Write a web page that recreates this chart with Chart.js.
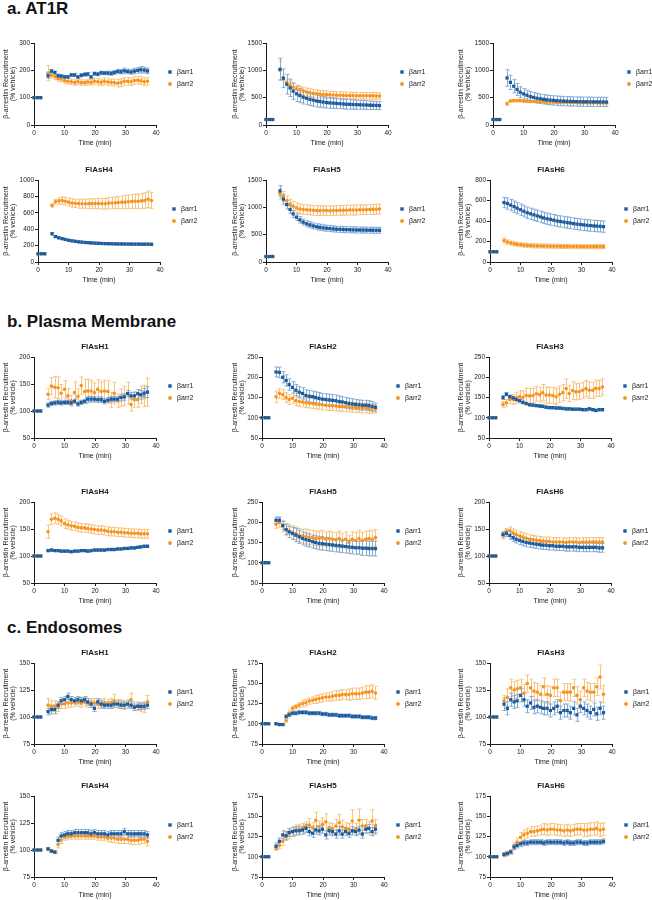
<!DOCTYPE html>
<html>
<head>
<meta charset="utf-8">
<script src="https://cdn.jsdelivr.net/npm/chart.js@4.4.1/dist/chart.umd.min.js"></script>
<style>
  body { margin: 0; background: #fff; width: 652px; height: 900px; position: relative; overflow: hidden;
         font-family: "Liberation Sans", Arial, sans-serif; }
  .sec { position: absolute; left: 7px; font-weight: bold; font-size: 17px; line-height: 17px; color: #111; }
  canvas { position: absolute; }
</style>
</head>
<body>
<div class="sec" style="top:0px">a. AT1R</div>
<div class="sec" style="top:313px">b. Plasma Membrane</div>
<div class="sec" style="top:619px">c. Endosomes</div>

<script>
// time points (min), shared by every panel
const time = [0, 1.1, 2.2, 4.6, 5.7, 6.8, 7.9, 8.9, 10.0, 11.1, 12.2, 13.3, 14.4, 15.5, 16.6, 17.6, 18.7,
  19.8, 20.9, 22.0, 23.1, 24.2, 25.3, 26.3, 27.4, 28.5, 29.6, 30.7, 31.8, 32.9, 34.0, 35.0, 36.1, 37.2];
const xTicks = [0, 10, 20, 30, 40];

// ---- a. AT1R ----
const a1Arr1 = [100,100,100, 180,197,192,180,179,176,176,183,183,176, 182,185,186,176,188,186,191,190,190,189, 192,196,195,198,196,194,197,200,202,201, 198];
const a1Arr1Err = [0,0,0, 8,6,5,6,5,5,5,5,6,5, 6,6,6,5,6,6,6,6,7,7, 7,8,8,10,8,8,10,10,12,10, 10];
const a1Arr2 = [100,100,100, 190,182,178,170,168,162,160,158,155,158, 155,155,157,156,160,158,156,160,157,156, 155,153,155,160,160,158,163,164,162,158, 160];
const a1Arr2Err = [0,0,0, 28,12,12,10,10,10,10,10,10,10, 10,10,10,10,12,12,12,12,12,12, 12,14,14,14,14,14,14,14,14,14, 14];

const a2Arr1 = [100,100,100, 1020,855,745,680,620,570,540,510,490,470, 455,440,430,420,410,405,400,395,390,385, 380,378,375,372,370,368,365,362,360,358, 355];
const a2Arr1Err = [0,0,0, 200,170,180,160,150,140,130,125,120,115, 110,110,105,105,100,100,95,95,90,90, 90,88,85,85,82,80,80,78,75,75, 72];
const a2Arr2 = [100,100,100, 1000,870,780,730,690,660,640,620,605,590, 580,570,565,560,555,552,548,545,543,540, 540,538,537,536,535,535,534,533,533,532, 530];
const a2Arr2Err = [0,0,0, 170,60,60,75,70,70,70,70,70,70, 70,70,68,68,68,65,65,65,65,65, 62,62,62,60,60,60,60,60,60,60, 60];

const a3Arr1 = [100,100,100, 860,780,710,650,600,570,545,520,505,490, 480,470,462,455,450,445,440,437,435,432, 430,428,427,425,425,424,423,423,422,422, 420];
const a3Arr1Err = [0,0,0, 150,130,120,110,100,95,90,90,88,88, 86,85,85,85,85,85,85,85,85,85, 85,85,85,85,85,85,85,85,85,85, 85];
const a3Arr2 = [100,100,100, 390,440,445,445,445,440,435,432,430,428, 426,424,422,420,418,416,415,414,412,411, 410,410,409,408,408,407,406,406,405,405, 404];
const a3Arr2Err = [0,0,0, 30,20,20,20,18,18,18,18,18,18, 18,18,18,18,18,18,18,18,18,18, 18,18,18,18,18,18,18,18,18,18, 18];

const a4Arr1 = [100,100,100, 345,310,295,285,275,265,258,252,246,242, 238,235,232,230,228,226,224,223,222,221, 220,220,219,219,218,218,218,217,217,217, 216];
const a4Arr1Err = [0,0,0, 15,12,12,12,12,12,12,12,12,12, 12,12,12,12,12,12,12,12,12,12, 12,12,12,12,12,12,12,12,12,12, 12];
const a4Arr2 = [100,100,100, 690,735,745,750,740,730,720,715,712,710, 710,710,712,712,712,712,710,718,720,722, 725,728,730,735,738,740,740,745,750,765, 750];
const a4Arr2Err = [0,0,0, 20,30,40,45,45,50,50,50,55,55, 55,60,60,60,62,65,65,70,70,72, 75,78,80,82,85,88,90,92,95,100, 100];

const a5Arr1 = [100,100,100, 1300,1150,1050,960,880,820,770,730,700,680, 660,645,635,625,618,612,606,600,598,595, 592,590,588,586,585,584,583,582,581,580, 580];
const a5Arr1Err = [0,0,0, 100,90,80,70,65,60,58,55,55,55, 55,55,55,55,55,55,55,55,55,55, 55,55,55,55,55,55,55,55,55,55, 55];
const a5Arr2 = [100,100,100, 1250,1200,1120,1060,1020,990,970,960,955,950, 945,940,940,940,940,938,940,942,945,945, 948,950,950,952,955,955,958,960,962,965, 968];
const a5Arr2Err = [0,0,0, 100,90,90,90,88,88,88,88,88,88, 88,88,88,88,88,88,88,88,88,88, 90,90,90,90,90,90,90,90,90,90, 90];

const a6Arr1 = [100,100,100, 580,570,555,540,525,510,495,480,470,460, 450,440,430,422,415,408,400,395,390,385, 380,375,370,366,362,358,355,352,350,348, 345];
const a6Arr1Err = [0,0,0, 50,55,55,55,55,55,55,55,55,55, 55,55,55,55,55,55,55,55,55,55, 55,55,55,55,55,55,55,55,55,55, 55];
const a6Arr2 = [100,100,100, 210,195,185,178,172,168,165,162,160,158, 157,156,155,155,154,153,153,152,152,152, 151,151,151,150,150,150,150,150,150,150, 150];
const a6Arr2Err = [0,0,0, 25,22,20,20,20,20,20,20,20,20, 20,20,20,20,20,20,20,20,20,20, 20,20,20,20,20,20,20,20,20,20, 20];

// ---- b. Plasma Membrane ----
const b1Arr1 = [100,100,100, 111,114,115,116,115,116,116,115,118,113, 116,118,122,122,122,121,121,118,120,122, 122,122,125,126,132,128,128,132,130,133, 135];
const b1Arr1Err = [0,0,0, 4,4,4,4,4,4,4,4,4,4, 4,4,5,5,5,5,5,5,5,5, 5,5,6,6,6,6,7,8,8,9, 10];
const b1Arr2 = [100,100,100, 131,146,144,143,133,140,128,119,134,127, 147,136,137,137,134,140,136,137,136,120, 133,119,125,128,133,112,121,121,130,128, 135];
const b1Arr2Err = [0,0,0, 10,16,20,20,16,16,14,10,20,14, 16,22,22,20,18,18,18,20,20,14, 20,12,16,18,20,12,14,14,16,20, 26];

const b2Arr1 = [100,100,100, 213,212,200,192,182,175,168,163,160,155, 153,152,150,148,146,145,144,143,142,140, 139,137,135,134,133,132,131,131,130,128, 126];
const b2Arr1Err = [0,0,0, 12,13,14,14,14,14,14,14,14,14, 14,14,14,14,14,14,14,14,14,14, 13,13,13,13,12,12,12,12,12,12, 10];
const b2Arr2 = [100,100,100, 152,160,157,150,145,148,142,140,139,137, 136,135,134,133,132,131,130,130,129,128, 128,127,127,126,125,125,124,124,123,122, 122];
const b2Arr2Err = [0,0,0, 14,12,12,12,12,12,12,12,12,12, 12,12,12,12,12,12,12,12,12,12, 12,12,12,12,12,12,12,12,12,12, 10];

const b3Arr1 = [100,100,100, 150,158,152,149,145,142,138,135,132,131, 130,129,128,126,125,125,124,124,123,122, 122,121,121,121,120,120,122,120,118,120, 120];
const b3Arr1Err = [0,0,0, 5,4,4,3,3,3,3,3,3,3, 3,3,3,3,3,3,3,3,3,3, 3,3,3,3,3,3,3,3,3,3, 3];
const b3Arr2 = [100,100,100, 133,137,145,145,149,152,150,155,154,155, 159,157,162,156,156,155,152,158,162,172, 160,167,164,165,168,172,168,168,173,172, 176];
const b3Arr2Err = [0,0,0, 7,8,10,12,14,15,16,18,18,18, 18,18,20,20,20,20,20,20,20,24, 20,22,20,20,20,20,20,20,20,20, 20];

const b4Arr1 = [100,100,100, 110,111,110,110,109,109,109,108,109,109, 110,110,109,110,111,111,111,111,112,112, 112,113,113,114,114,115,115,116,117,118, 118];
const b4Arr1Err = [0,0,0, 2,2,2,2,2,2,2,2,2,2, 2,2,2,2,2,2,2,2,2,2, 2,2,2,2,2,2,2,2,2,2, 2];
const b4Arr2 = [100,100,100, 145,168,170,168,165,160,158,156,155,153, 152,152,151,150,149,148,148,147,146,145, 145,144,144,143,143,142,142,142,141,141, 141];
const b4Arr2Err = [0,0,0, 12,10,10,9,9,9,8,8,8,8, 8,8,8,8,8,8,8,8,8,8, 8,8,8,8,8,8,8,8,8,8, 8];

const b5Arr1 = [100,100,100, 205,205,192,182,176,172,168,164,160,157, 155,152,150,148,147,146,145,144,143,142, 141,140,139,138,137,137,136,136,135,135, 135];
const b5Arr1Err = [0,0,0, 8,8,10,12,14,15,16,16,16,16, 16,16,16,16,16,16,16,16,16,16, 16,16,16,16,16,16,18,18,18,18, 18];
const b5Arr2 = [100,100,100, 195,200,190,182,178,175,172,168,166,165, 163,162,160,160,162,158,160,158,156,160, 155,158,150,158,155,160,155,158,160,158, 162];
const b5Arr2Err = [0,0,0, 10,12,14,15,16,16,16,17,17,18, 18,18,18,18,18,18,18,18,18,18, 18,18,18,18,20,20,20,20,20,20, 20];

const b6Arr1 = [100,100,100, 140,142,138,134,131,129,127,125,124,123, 122,121,120,120,119,119,118,118,118,117, 117,117,117,116,116,116,116,116,116,115, 115];
const b6Arr1Err = [0,0,0, 5,6,7,7,7,8,8,8,8,8, 8,8,8,8,8,8,8,8,8,8, 8,8,8,8,8,8,8,8,8,8, 8];
const b6Arr2 = [100,100,100, 138,145,147,143,140,137,135,133,131,130, 129,128,127,127,127,126,126,126,126,125, 126,126,126,125,126,126,126,126,126,126, 126];
const b6Arr2Err = [0,0,0, 6,6,7,7,8,8,8,8,8,8, 8,8,8,8,8,8,8,8,8,8, 8,8,8,8,8,8,8,8,8,8, 8];

// ---- c. Endosomes ----
const c1Arr1 = [100,100,100, 105,107,107,111,115,116,119,116,115,116, 115,116,114,112,108,114,112,111,111,111, 112,112,111,111,112,111,109,110,110,110, 111];
const c1Arr1Err = [0,0,0, 3,4,4,3,3,3,3,3,3,3, 3,3,3,3,3,3,3,3,3,3, 3,3,3,3,3,3,3,3,3,3, 3];
const c1Arr2 = [100,100,100, 111,110,110,109,112,112,113,113,114,114, 113,114,113,113,113,112,112,113,112,113, 115,112,112,111,112,116,110,110,109,109, 114];
const c1Arr2Err = [0,0,0, 6,5,5,4,4,4,4,4,4,4, 4,4,4,4,4,4,4,4,4,4, 6,4,4,4,4,6,4,4,4,5, 6];

const c2Arr1 = [100,100,100, 100,99,99,109,111,113,113,114,114,114, 113,113,113,113,112,112,111,111,111,110, 110,110,110,109,109,109,108,108,108,107, 107];
const c2Arr1Err = [0,0,0, 1,1,1,2,2,2,2,2,2,2, 2,2,2,2,2,2,2,2,2,2, 2,2,2,2,2,2,2,2,2,2, 2];
const c2Arr2 = [100,100,100, 100,99,99,104,113,119,121,123,125,126, 128,129,130,131,132,133,133,134,135,135, 136,136,136,137,137,137,138,139,139,140, 138];
const c2Arr2Err = [0,0,0, 0,0,0,2,3,3,3,3,4,4, 4,4,5,5,5,5,5,6,6,6, 6,6,7,7,7,7,7,8,8,8, 8];

const c3Arr1 = [100,100,100, 112,108,116,114,115,120,116,110,113,109, 110,109,108,108,106,108,110,104,106,106, 104,108,102,110,108,106,104,107,103,108, 104];
const c3Arr1Err = [0,0,0, 6,6,6,6,6,6,6,6,6,6, 6,6,6,6,6,6,6,6,6,6, 6,6,6,6,6,6,6,6,6,6, 6];
const c3Arr2 = [100,100,100, 115,118,127,125,126,127,122,131,127,124, 123,121,128,121,120,127,127,115,123,123, 123,127,120,116,127,124,123,123,128,137, 121];
const c3Arr2Err = [0,0,0, 5,8,8,8,8,8,8,8,8,8, 8,8,8,8,8,8,8,8,8,8, 8,8,8,8,8,8,8,8,8,11, 8];

const c4Arr1 = [100,100,100, 101,99,98,109,113,114,115,115,116,116, 116,116,116,115,116,115,115,115,114,115, 115,115,115,117,115,115,115,115,115,115, 114];
const c4Arr1Err = [0,0,0, 1,1,1,3,3,3,3,3,3,3, 3,3,3,3,3,3,3,3,3,3, 3,3,3,3,3,3,3,3,3,3, 3];
const c4Arr2 = [100,100,100, 101,99,98,105,109,112,113,113,113,113, 113,113,113,113,113,112,112,112,111,111, 111,110,110,110,110,109,109,109,110,110, 108];
const c4Arr2Err = [0,0,0, 1,1,1,3,3,3,3,3,3,3, 3,3,3,3,3,3,3,3,3,4, 4,4,4,4,4,4,4,4,4,4, 4];

const c5Arr1 = [100,100,100, 113,119,127,126,130,131,132,132,133,135, 131,129,133,132,134,127,132,131,128,132, 128,131,129,132,131,133,128,134,135,131, 134];
const c5Arr1Err = [0,0,0, 4,4,5,5,5,5,5,5,5,5, 5,5,5,5,5,5,5,5,5,5, 5,5,5,5,5,5,5,5,5,5, 6];
const c5Arr2 = [100,100,100, 111,114,119,125,128,131,133,134,135,137, 139,136,145,137,140,143,135,134,138,142, 137,135,134,144,134,145,138,138,135,144, 138];
const c5Arr2Err = [0,0,0, 3,4,5,5,6,6,6,6,6,6, 8,6,10,7,8,10,7,7,8,10, 8,7,7,14,7,14,8,8,8,14, 8];

const c6Arr1 = [100,100,100, 103,104,106,112,114,116,117,117,118,118, 118,118,117,118,118,118,118,118,117,118, 117,117,118,118,117,117,118,118,118,118, 119];
const c6Arr1Err = [0,0,0, 2,2,2,3,3,3,3,3,3,3, 3,3,3,3,3,3,3,3,3,3, 3,3,3,3,3,3,3,3,3,3, 3];
const c6Arr2 = [100,100,100, 102,104,106,113,118,124,127,129,131,131, 132,133,134,133,134,134,133,133,132,133, 132,133,134,134,133,133,134,134,135,133, 134];
const c6Arr2Err = [0,0,0, 2,3,3,4,5,6,6,6,6,6, 6,6,7,7,7,7,7,7,7,7, 7,7,7,7,8,8,8,8,8,8, 8];

// panel table: title, y-axis range / step, series
const panels = [
  { title: '',       y: [0, 300, 100],   s: [a1Arr1, a1Arr1Err, a1Arr2, a1Arr2Err] },
  { title: '',       y: [0, 1500, 500],  s: [a2Arr1, a2Arr1Err, a2Arr2, a2Arr2Err] },
  { title: '',       y: [0, 1500, 500],  s: [a3Arr1, a3Arr1Err, a3Arr2, a3Arr2Err] },
  { title: 'FlAsH4', y: [0, 1000, 200],  s: [a4Arr1, a4Arr1Err, a4Arr2, a4Arr2Err] },
  { title: 'FlAsH5', y: [0, 1500, 500],  s: [a5Arr1, a5Arr1Err, a5Arr2, a5Arr2Err] },
  { title: 'FlAsH6', y: [0, 800, 200],   s: [a6Arr1, a6Arr1Err, a6Arr2, a6Arr2Err] },
  { title: 'FlAsH1', y: [50, 200, 50],   s: [b1Arr1, b1Arr1Err, b1Arr2, b1Arr2Err] },
  { title: 'FlAsH2', y: [50, 250, 50],   s: [b2Arr1, b2Arr1Err, b2Arr2, b2Arr2Err] },
  { title: 'FlAsH3', y: [50, 250, 50],   s: [b3Arr1, b3Arr1Err, b3Arr2, b3Arr2Err] },
  { title: 'FlAsH4', y: [50, 200, 50],   s: [b4Arr1, b4Arr1Err, b4Arr2, b4Arr2Err] },
  { title: 'FlAsH5', y: [50, 250, 50],   s: [b5Arr1, b5Arr1Err, b5Arr2, b5Arr2Err] },
  { title: 'FlAsH6', y: [50, 200, 50],   s: [b6Arr1, b6Arr1Err, b6Arr2, b6Arr2Err] },
  { title: 'FlAsH1', y: [75, 150, 25],   s: [c1Arr1, c1Arr1Err, c1Arr2, c1Arr2Err] },
  { title: 'FlAsH2', y: [75, 175, 25],   s: [c2Arr1, c2Arr1Err, c2Arr2, c2Arr2Err] },
  { title: 'FlAsH3', y: [75, 150, 25],   s: [c3Arr1, c3Arr1Err, c3Arr2, c3Arr2Err] },
  { title: 'FlAsH4', y: [75, 150, 25],   s: [c4Arr1, c4Arr1Err, c4Arr2, c4Arr2Err] },
  { title: 'FlAsH5', y: [75, 175, 25],   s: [c5Arr1, c5Arr1Err, c5Arr2, c5Arr2Err] },
  { title: 'FlAsH6', y: [75, 175, 25],   s: [c6Arr1, c6Arr1Err, c6Arr2, c6Arr2Err] },
];

// layout (pixels)
const ROW_PLOT = [[43, 125], [180, 262], [357, 438], [502, 583], [663, 744], [796, 877]];
const COL_LEFT = [0, 229, 455];
const COL_W    = [224, 224, 197];
const AXIS_X0  = [[34, 266, 493], [38, 266, 490], [34, 262, 489], [34, 262, 489], [34, 262, 490], [34, 262, 490]];
const PLOT_W = 122, TOP_PAD = 20, X_AXIS_H = 24;

const BLUE = '#1c5b9d', BLUE_ERR = '#86acd6';
const ORANGE = '#f7931e', ORANGE_ERR = '#f9c47f';
const FONT = '"Liberation Sans", Arial, sans-serif';
const INK = '#1a1a1a';

const errorBars = {
  id: 'errorBars',
  beforeDatasetsDraw(chart) {
    const { ctx, scales: { x, y } } = chart;
    ctx.save();
    ctx.lineWidth = 1;
    for (let d = chart.data.datasets.length - 1; d >= 0; d--) {
      const ds = chart.data.datasets[d];
      ctx.strokeStyle = ds.errColor;
      ds.data.forEach((pt, i) => {
        const e = ds.err[i];
        if (!e) return;
        const px = Math.round(x.getPixelForValue(pt.x)) + 0.5;
        const y1 = y.getPixelForValue(pt.y + e);
        const y2 = y.getPixelForValue(pt.y - e);
        ctx.beginPath();
        ctx.moveTo(px, y1); ctx.lineTo(px, y2);
        ctx.moveTo(px - 2, y1); ctx.lineTo(px + 2, y1);
        ctx.moveTo(px - 2, y2); ctx.lineTo(px + 2, y2);
        ctx.stroke();
      });
    }
    ctx.restore();
  }
};

// panel title above the plot and the small legend to the right of it
const panelText = {
  id: 'panelText',
  afterDraw(chart, args, opts) {
    const { ctx, chartArea: a } = chart;
    ctx.save();
    ctx.textBaseline = 'middle';
    if (opts.title) {
      ctx.fillStyle = INK;
      ctx.font = 'bold 8px ' + FONT;
      ctx.textAlign = 'center';
      ctx.fillText(opts.title, (a.left + a.right) / 2, a.top - 10);
    }
    const lx = a.right + 14;
    chart.data.datasets.forEach((ds, i) => {
      const ly = a.top + 29 + i * 12;
      ctx.fillStyle = ds.backgroundColor;
      if (ds.pointStyle === 'rect') {
        ctx.fillRect(lx - 1.7, ly - 1.7, 3.4, 3.4);
      } else {
        ctx.beginPath(); ctx.arc(lx, ly, 1.9, 0, Math.PI * 2); ctx.fill();
      }
      ctx.fillStyle = INK;
      ctx.font = '7px ' + FONT;
      ctx.textAlign = 'left';
      ctx.fillText(ds.label, lx + 7, ly);
    });
    ctx.restore();
  }
};

const toPoints = vals => vals.map((v, i) => ({ x: time[i], y: v }));

panels.forEach((p, n) => {
  const row = Math.floor(n / 3), col = n % 3;
  const [plotTop, plotBottom] = ROW_PLOT[row];
  const left = COL_LEFT[col], w = COL_W[col];
  const yw = AXIS_X0[row][col] - left;
  const h = TOP_PAD + (plotBottom - plotTop) + X_AXIS_H;

  const canvas = document.createElement('canvas');
  canvas.width = w; canvas.height = h;
  canvas.style.left = left + 'px';
  canvas.style.top = (plotTop - TOP_PAD) + 'px';
  document.body.appendChild(canvas);

  const [b1, b1e, b2, b2e] = p.s;
  const axisCommon = {
    border: { color: INK, width: 1 },
    grid: { display: true, drawOnChartArea: false, drawTicks: true, tickLength: 3, color: INK },
  };

  new Chart(canvas, {
    type: 'scatter',
    data: {
      datasets: [
        { label: 'βarr1', data: toPoints(b1), err: b1e, errColor: BLUE_ERR, pointStyle: 'rect',
          pointRadius: 2.3, backgroundColor: BLUE, borderWidth: 0, clip: false },
        { label: 'βarr2', data: toPoints(b2), err: b2e, errColor: ORANGE_ERR, pointStyle: 'circle',
          pointRadius: 1.8, backgroundColor: ORANGE, borderWidth: 0, clip: false },
      ],
    },
    options: {
      responsive: false,
      animation: false,
      devicePixelRatio: 1,
      events: [],
      layout: { padding: { top: TOP_PAD, right: w - yw - PLOT_W, left: 0, bottom: 0 } },
      plugins: {
        legend: { display: false },
        tooltip: { enabled: false },
        panelText: { title: p.title },
      },
      scales: {
        x: {
          ...axisCommon,
          type: 'linear', min: 0, max: 40,
          afterBuildTicks: s => { s.ticks = xTicks.map(v => ({ value: v })); },
          afterFit: s => { s.height = X_AXIS_H; },
          ticks: { font: { size: 6.5, family: FONT }, color: INK, padding: 1, maxRotation: 0,
                   callback: v => String(v) },
          title: { display: true, text: 'Time (min)', color: INK,
                   font: { size: 7, family: FONT }, padding: { top: 0, bottom: 2 } },
        },
        y: {
          ...axisCommon,
          min: p.y[0], max: p.y[1],
          afterFit: s => { s.width = yw; },
          ticks: { stepSize: p.y[2], font: { size: 6.5, family: FONT }, color: INK, padding: 1,
                   callback: v => String(v) },
          title: { display: true, text: ['β-arrestin Recruitment', '(% vehicle)'], color: INK,
                   font: { size: 7, family: FONT, lineHeight: 1.1 }, padding: { top: 2, bottom: 0 } },
        },
      },
    },
    plugins: [errorBars, panelText],
  });
});
</script>
</body>
</html>
